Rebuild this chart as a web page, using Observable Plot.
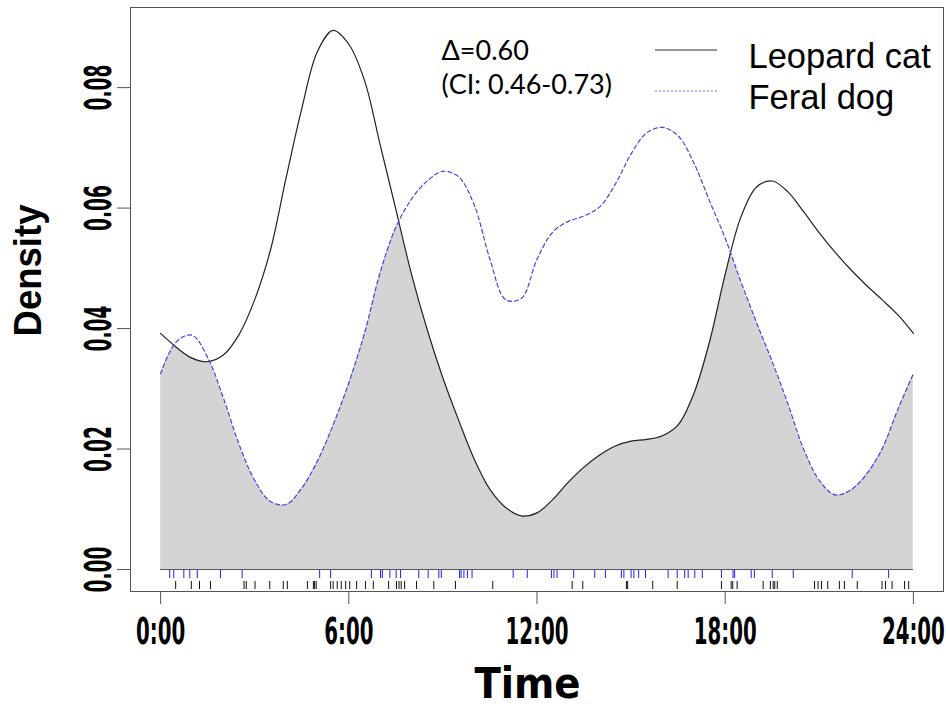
<!DOCTYPE html>
<html><head><meta charset="utf-8">
<script src="https://cdn.jsdelivr.net/npm/d3@7"></script>
<script src="https://cdn.jsdelivr.net/npm/@observablehq/plot@0.6"></script>
<style>
body{margin:0;background:#fff}
#chart svg{display:block;overflow:visible}
g[aria-label="x-axis tick label"] text{
  font-family:"DejaVu Sans Condensed","DejaVu Sans",sans-serif;font-weight:bold;font-size:22px;fill:#000}
g[aria-label="y-axis tick label"] text{
  font-family:"Liberation Sans Narrow","Arial Narrow","DejaVu Sans Condensed",sans-serif;font-weight:bold;font-size:38px;fill:#000}
</style></head><body><div id="chart"></div>
<script>
// time of day (hours) grid for the density curves
const hours = [0,0.5,1,1.5,2,2.5,3,3.5,4,4.5,5,5.5,6,6.5,7,7.5,8,8.5,9,9.5,10,10.5,11,11.5,12,
  12.5,13,13.5,14,14.5,15,15.5,16,16.5,17,17.5,18,18.5,19,19.5,20,20.5,21,21.5,22,22.5,23,23.5,24];
const leopardCat = [0.0392,0.0369,0.0351,0.0345,0.0356,0.0390,0.0448,0.0530,0.0650,0.0765,0.0860,0.0895,
  0.0872,0.0812,0.0705,0.0598,0.0490,0.0398,0.0318,0.0248,0.0183,0.0133,0.0103,0.0089,0.0094,0.0116,0.0145,
  0.0170,0.0190,0.0205,0.0213,0.0216,0.0222,0.0240,0.0292,0.0378,0.0490,0.0585,0.0635,0.0645,0.0627,0.0594,
  0.0559,0.0527,0.0498,0.0472,0.0448,0.0423,0.0392];
const feralDog = [0.0325,0.0378,0.0389,0.0352,0.0285,0.0208,0.0148,0.0113,0.0108,0.0135,0.0180,0.0240,
  0.0310,0.0392,0.0493,0.0568,0.0615,0.0645,0.0661,0.0652,0.0605,0.0515,0.0448,0.0450,0.0515,0.0560,0.0578,
  0.0587,0.0602,0.0640,0.0690,0.0725,0.0734,0.0720,0.0675,0.0612,0.0550,0.0478,0.0410,0.0345,0.0275,0.0200,
  0.0148,0.0124,0.0132,0.0158,0.0200,0.0265,0.0325];
// detection times (hours) shown as rugs
const dogRug = [0.29,0.42,0.74,0.93,1.17,1.91,2.60,5.07,5.42,6.72,7.01,7.07,7.31,7.51,7.65,8.23,8.53,8.87,8.95,
  9.53,9.58,9.67,9.78,9.93,11.24,11.69,12.46,12.54,12.64,13.17,13.84,14.18,14.69,14.77,15.00,15.09,15.24,15.46,
  16.18,16.47,16.71,16.82,17.03,17.27,17.88,18.25,18.30,18.83,18.93,19.50,20.17,22.05,23.21];
const leopardRug = [0.48,0.98,1.24,1.59,2.66,2.73,3.01,3.48,3.91,4.04,4.68,4.87,4.91,4.96,5.42,5.50,5.63,5.76,
  5.90,6.03,6.25,6.53,6.78,7.27,7.52,7.60,7.67,7.78,8.16,8.71,9.40,10.59,13.12,13.46,14.85,14.89,15.69,16.47,
  17.88,18.19,18.24,18.38,19.21,19.44,19.53,19.58,19.66,20.85,20.96,21.07,21.27,21.64,21.80,22.21,23.00,23.11,
  23.32,23.72,23.85];
const xTicks = [0,6,12,18,24];
const xTickLabels = ["0:00","6:00","12:00","18:00","24:00"];
const yTicks = [0,0.02,0.04,0.06,0.08];
const annotationLines = ["\u0394=0.60","(CI: 0.46-0.73)"];
const legendLabels = ["Leopard cat","Feral dog"];
const xTitle = "Time", yTitle = "Density";

const rows = hours.map((h,i)=>({h, leopard: leopardCat[i], dog: feralDog[i]}));
const narrow = "'Liberation Sans Narrow','Arial Narrow','DejaVu Sans Condensed',sans-serif";

const chart = Plot.plot({
  width: 946, height: 709,
  marginLeft: 130, marginRight: 3, marginTop: 7, marginBottom: 118,
  x: {domain: [-0.96, 24.96]},
  y: {domain: [-0.00365, 0.0933]},
  style: {background: "#fff", color: "#000"},
  marks: [
    Plot.areaY(rows, {x: "h", y: "dog", fill: "#d4d4d4", curve: "catmull-rom", ariaDescription: "overlap"}),
    Plot.areaY(rows, {x: "h", y: "leopard", fill: "none", curve: "catmull-rom", ariaDescription: "clipper"}),
    Plot.ruleY([0], {x1: hours[0], x2: hours[hours.length-1], stroke: "#555", strokeWidth: 1.2}),
    Plot.lineY(rows, {x: "h", y: "leopard", stroke: "#222", strokeWidth: 1.2, curve: "catmull-rom"}),
    Plot.lineY(rows, {x: "h", y: "dog", stroke: "#4444e6", strokeWidth: 1.2, strokeDasharray: "4,3", curve: "catmull-rom"}),
    Plot.ruleX(dogRug, {x: d => d, stroke: "#2020ff", strokeWidth: 1, insetTop: 563, insetBottom: 13}),
    Plot.ruleX(leopardRug, {x: d => d, stroke: "#111", strokeWidth: 1, insetTop: 574, insetBottom: 2}),
    Plot.frame({stroke: "#555"}),
    Plot.axisX({ticks: xTicks, tickFormat: d => xTickLabels[xTicks.indexOf(d)], tickSize: 13, tickPadding: 13,
      stroke: "#555", label: null}),
    Plot.axisY({ticks: yTicks, tickFormat: d3.format(".2f"), tickSize: 13, tickPadding: 7, tickRotate: -90,
      stroke: "#555", label: null}),
    Plot.text([xTitle], {frameAnchor: "bottom", dx: -9.5, dy: 93, lineAnchor: "middle", textAnchor: "middle",
      fontFamily: narrow, fontWeight: "bold", fontSize: 43, fill: "#000"}),
    Plot.text([yTitle], {frameAnchor: "left", dx: -102, dy: -29, rotate: -90, lineAnchor: "middle", textAnchor: "middle",
      fontFamily: "'Liberation Sans',Arial,sans-serif", fontWeight: "bold", fontSize: 38, fill: "#000",
      ariaDescription: "ytitle"}),
    Plot.text([annotationLines.join("\n")], {frameAnchor: "top-left", dx: 311, dy: 28, lineAnchor: "top",
      textAnchor: "start", lineHeight: 1.27, fontFamily: "Lato,'Open Sans',sans-serif", fontSize: 27, fill: "#000"}),
    Plot.text([legendLabels.join("\n")], {frameAnchor: "top-left", dx: 618, dy: 31, lineAnchor: "top",
      textAnchor: "start", lineHeight: 1.19, fontFamily: "'Liberation Sans',Arial,sans-serif", fontSize: 34.5, fill: "#000"})
  ]
});
document.getElementById("chart").appendChild(chart);

const svg = d3.select(chart);
// overlap shading = area under feral dog clipped by area under leopard cat
const clipD = svg.select('g[aria-description="clipper"] path').attr("d");
let defs = svg.select("defs");
if (defs.empty()) defs = svg.insert("defs", ":first-child");
defs.append("clipPath").attr("id", "leopardClip").append("path").attr("d", clipD);
svg.select('g[aria-description="overlap"]').attr("clip-path", "url(#leopardClip)");

// legend swatches
const lg = svg.append("g").attr("aria-label", "legend swatches");
lg.append("line").attr("x1", 655).attr("x2", 717).attr("y1", 50).attr("y2", 50).attr("stroke", "#333").attr("stroke-width", 1.2);
lg.append("line").attr("x1", 655).attr("x2", 717).attr("y1", 91).attr("y2", 91).attr("stroke", "#5a7cff").attr("stroke-width", 1.2).attr("stroke-dasharray", "2,2");

// tall condensed x tick labels: stretch vertically
svg.selectAll('g[aria-label="x-axis tick label"] text').each(function(){
  const t = this.getAttribute("transform") || "";
  this.setAttribute("transform", t + " scale(1,1.72)");
});
// condensed y tick labels (digits wide, punctuation narrow)
function labelLength(s) {
  let w = 0;
  for (const c of s) w += /[0-9]/.test(c) ? 12.8 : 7.5;
  return w;
}
svg.selectAll('g[aria-label="y-axis tick label"] text').each(function(){
  this.setAttribute("textLength", labelLength(this.textContent));
  this.setAttribute("lengthAdjust", "spacingAndGlyphs");
});
svg.selectAll('g[aria-description="ytitle"] text').attr("textLength", 132).attr("lengthAdjust", "spacingAndGlyphs");
</script></body></html>
